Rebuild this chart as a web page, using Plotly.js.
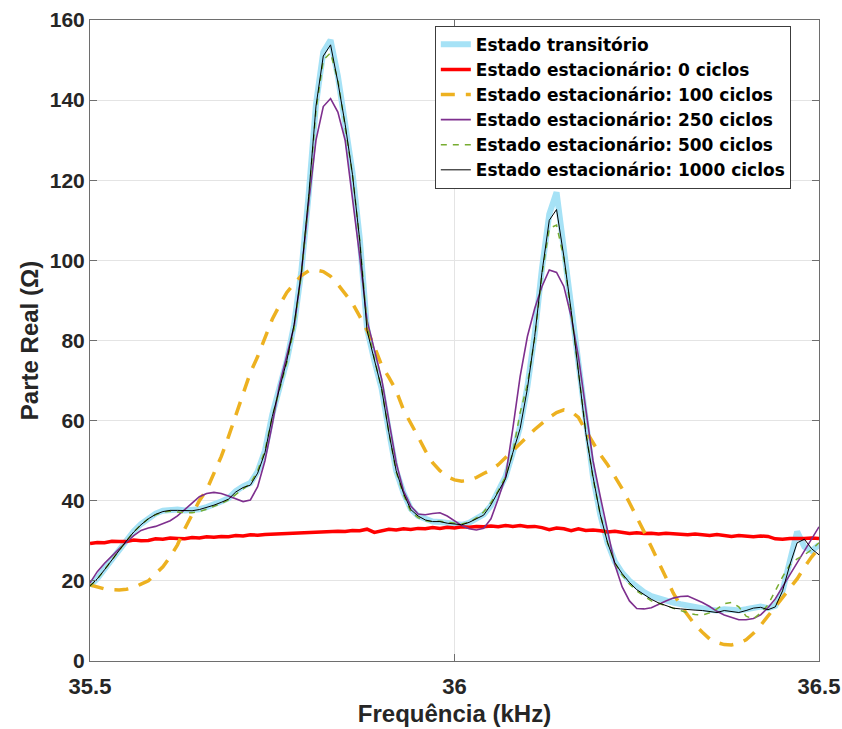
<!DOCTYPE html>
<html>
<head>
<meta charset="utf-8">
<script src="https://cdn.plot.ly/plotly-3.0.1.min.js"></script>
<style>
  html, body { margin: 0; padding: 0; background: #ffffff; }
  #chart { width: 842px; height: 729px; }
</style>
</head>
<body>
<div id="chart"></div>
<script>
// Frequency grid (kHz): 35.50 ... 36.50 in 0.01 steps
const freqStart = 35.5;
const freqStep = 0.01;

// Real part (Ohm) for each simulation case, one value per grid point
const transiente = [
  18.8, 20.6, 23.0, 25.5, 27.8, 30.2, 32.4, 34.2, 35.7, 36.8,
  37.5, 37.8, 37.8, 37.6, 37.6, 37.9, 38.4, 39.0, 39.8, 40.6,
  42.4, 43.6, 44.4, 47.3, 52.5, 61.5, 68.5, 75.0, 84.0, 97.5,
  116.5, 139.0, 152.0, 155.0, 146.0, 134.5, 122.0, 105.5, 83.0, 75.0,
  68.0, 57.5, 47.5, 42.0, 38.0, 36.2, 35.3, 34.8, 34.7, 34.4,
  34.2, 34.0, 34.5, 35.5, 36.6, 38.8, 42.3, 46.0, 52.0, 58.5,
  68.5, 81.5, 98.0, 111.5, 117.0, 102.5, 88.0, 72.5, 57.5, 46.0,
  36.5, 29.5, 24.8, 22.0, 20.0, 18.4, 17.2, 16.2, 15.6, 15.0,
  14.6, 14.2, 13.8, 13.4, 13.1, 12.8, 12.6, 12.9, 12.8, 12.6,
  12.9, 13.4, 13.6, 13.2, 13.8, 17.5, 25.0, 32.3, 28.5, 27.5,
  29.0
];
const ciclos0 = [
  29.3, 29.6, 29.5, 29.9, 29.8, 29.8, 30.2, 30.0, 30.1, 30.5,
  30.4, 30.7, 30.6, 30.5, 30.8, 30.7, 31.0, 30.9, 31.1, 31.0,
  31.3, 31.2, 31.5, 31.4, 31.6, 31.7, 31.6, 31.9, 31.8, 32.1,
  32.0, 32.3, 32.2, 32.4, 32.4, 32.3, 32.6, 32.5, 32.9, 32.1,
  32.6, 32.9, 32.7, 33.0, 32.8, 33.1, 33.0, 33.3, 33.1, 33.4,
  33.2, 33.5, 33.4, 33.6, 33.5, 33.7, 33.5, 33.8, 33.6, 33.8,
  33.5, 33.6, 33.3, 32.8, 33.2, 33.0, 32.5, 33.0, 32.6, 32.7,
  32.5, 32.2, 32.4, 32.0, 31.8, 32.0, 31.8, 31.9, 31.7, 31.9,
  31.8, 31.6, 31.5, 31.7, 31.5, 31.3, 31.6, 31.4, 31.1, 31.3,
  31.2, 31.0, 31.2, 31.1, 30.5, 30.4, 30.6, 30.5, 30.6, 30.7,
  30.6
];
const ciclos100 = [
  19.0, 18.4, 18.0, 17.8, 17.7, 17.9, 18.3, 19.2, 20.0, 21.8,
  23.5, 26.0, 29.0, 33.0, 36.5, 40.0, 42.7, 47.0, 51.0, 56.0,
  61.5, 67.0, 72.0, 76.0, 80.5, 85.3, 88.8, 92.0, 94.2, 96.2,
  97.4, 97.6, 97.2, 96.0, 94.0, 91.8, 89.3, 86.0, 82.6, 78.5,
  73.8, 70.8, 67.5, 62.7, 59.5, 56.0, 52.5, 49.5, 47.5, 46.0,
  45.2, 44.9, 45.1, 45.8, 46.8, 47.7, 49.0, 50.8, 52.6, 54.5,
  56.3, 57.8, 59.3, 60.8, 62.0, 62.7, 62.3, 60.8, 57.5, 54.5,
  51.5, 49.0, 46.0, 43.0, 39.5, 36.0, 32.3, 28.5, 24.5, 21.0,
  17.0, 13.9, 11.3, 9.0, 7.2, 5.5, 4.6, 4.1, 4.0, 4.4,
  5.3, 6.9, 8.9, 11.2, 13.4, 15.6, 18.0, 20.5, 23.4, 26.0,
  28.2
];
const ciclos250 = [
  19.5, 22.3, 24.4, 26.3, 28.0, 29.7, 31.3, 32.6, 33.2, 33.6,
  34.3, 35.0, 36.2, 37.7, 39.4, 41.0, 41.8, 42.1, 41.8, 41.2,
  40.5, 39.8, 40.2, 43.5, 50.0, 59.0, 69.0, 76.0, 83.5, 97.0,
  114.5, 130.0, 138.4, 140.4, 137.0, 130.0, 116.0, 101.0, 85.0, 78.0,
  70.5, 60.0, 49.5, 42.5, 38.7, 36.7, 36.5, 36.8, 37.0, 36.2,
  35.0, 33.8, 33.0, 32.7, 33.1, 35.5, 40.5, 46.0, 58.0, 71.0,
  81.0, 88.0, 93.5, 97.6, 97.0, 93.5, 86.0, 76.0, 63.0, 50.0,
  41.0, 32.5, 24.0, 18.5, 15.0, 13.1, 13.0, 13.3, 14.2, 15.0,
  15.7, 16.1, 16.2, 15.4, 14.6, 13.6, 12.4, 11.5, 10.8, 10.3,
  10.3, 10.6, 11.5, 13.3, 15.5, 18.5, 21.5, 24.5, 27.2, 30.3,
  33.5
];
const ciclos500 = [
  18.6, 20.4, 22.8, 25.3, 27.6, 30.0, 32.2, 34.0, 35.5, 36.5,
  37.2, 37.4, 37.2, 37.0, 37.0, 37.3, 37.9, 38.6, 39.3, 40.2,
  41.6, 43.0, 44.3, 47.5, 52.5, 61.0, 68.0, 74.5, 83.0, 96.5,
  115.5, 137.5, 150.0, 151.8, 145.0, 133.5, 121.5, 105.0, 84.0, 75.5,
  68.0, 57.0, 47.2, 41.5, 37.3, 35.8, 35.0, 34.8, 34.9, 34.6,
  34.4, 34.2, 34.6, 35.7, 37.2, 39.5, 42.5, 46.0, 52.0, 62.0,
  69.0, 80.5, 96.5, 108.0, 108.8, 100.5, 87.0, 72.0, 57.5, 45.5,
  36.5, 29.5, 24.5, 21.5, 19.2, 17.5, 16.2, 15.0, 14.4, 13.8,
  13.3, 12.6, 12.0, 11.6, 11.5, 12.0, 13.0, 14.3, 14.6, 13.5,
  11.2, 10.5, 12.0, 14.0, 17.5, 21.0, 24.0, 25.5, 26.5, 27.8,
  29.5
];
const ciclos1000 = [
  18.8, 20.5, 22.8, 25.3, 27.5, 30.0, 32.2, 34.0, 35.5, 36.6,
  37.3, 37.6, 37.6, 37.5, 37.5, 37.8, 38.3, 38.9, 39.6, 40.4,
  42.2, 43.3, 43.9, 46.9, 52.0, 61.0, 68.0, 75.0, 84.0, 97.0,
  116.0, 138.5, 151.0, 153.8, 144.5, 134.0, 121.5, 105.0, 82.5, 75.0,
  68.0, 57.0, 47.5, 41.9, 37.8, 36.2, 35.2, 34.8, 34.8, 34.4,
  34.2, 34.0, 34.6, 35.5, 36.4, 39.0, 42.3, 45.5, 52.0, 58.0,
  68.0, 81.0, 97.0, 110.0, 112.7, 101.0, 87.5, 72.0, 57.0, 46.0,
  36.5, 29.5, 24.5, 21.8, 19.6, 17.8, 16.6, 15.4, 14.5, 13.8,
  13.2, 13.0, 12.8, 12.7, 12.6, 12.3, 12.1, 12.6, 12.4, 12.1,
  12.6, 13.2, 13.4, 12.8, 13.5, 17.5, 24.0, 29.5, 30.4, 28.0,
  26.5
];

const seriesNames = [
  'Estado transitório',
  'Estado estacionário: 0 ciclos',
  'Estado estacionário: 100 ciclos',
  'Estado estacionário: 250 ciclos',
  'Estado estacionário: 500 ciclos',
  'Estado estacionário: 1000 ciclos'
];

const xTickVals = [35.5, 36, 36.5];
const xTickText = ['35.5', '36', '36.5'];
const yTickVals = [0, 20, 40, 60, 80, 100, 120, 140, 160];

// Shared frequency axis built from the grid definition
const freq = transiente.map((_, i) => +(freqStart + i * freqStep).toFixed(2));

const styles = [
  { color: 'rgb(166,226,246)', width: 6,   dash: 'solid' },
  { color: 'rgb(255,0,0)',     width: 3.5, dash: 'solid' },
  { color: 'rgb(237,177,32)',  width: 3.5, dash: '14px,11px' },
  { color: 'rgb(126,47,142)',  width: 1.6, dash: 'solid' },
  { color: 'rgb(119,172,48)',  width: 1.5, dash: '6px,6px' },
  { color: 'rgb(0,0,0)',       width: 1,   dash: 'solid' }
];

const allSeries = [transiente, ciclos0, ciclos100, ciclos250, ciclos500, ciclos1000];

const traces = allSeries.map((ys, k) => ({
  x: freq,
  y: ys,
  type: 'scatter',
  mode: 'lines',
  name: seriesNames[k],
  line: styles[k]
}));

const fontFamily = '"Liberation Sans", Arial, Helvetica, sans-serif';
const legendFamily = '"DejaVu Sans", "Liberation Sans", Arial, sans-serif';
const axisColor = 'rgb(110,110,110)';
const gridColor = 'rgb(228,228,228)';
const textColor = '#262626';

const layout = {
  width: 842,
  height: 729,
  margin: { l: 90, r: 23, t: 20, b: 68 },
  paper_bgcolor: '#ffffff',
  plot_bgcolor: '#ffffff',
  font: { family: fontFamily, color: textColor },
  showlegend: true,
  legend: {
    x: 0.473,
    y: 0.991,
    xanchor: 'left',
    yanchor: 'top',
    bgcolor: '#ffffff',
    bordercolor: 'rgb(60,60,60)',
    borderwidth: 1,
    font: { family: legendFamily, size: 17, color: '#000000', weight: 'bold' },
    tracegroupgap: 0
  },
  xaxis: {
    range: [35.5, 36.5],
    tickvals: xTickVals,
    ticktext: xTickText,
    ticks: 'inside',
    ticklen: 7,
    tickcolor: axisColor,
    showline: true,
    linecolor: axisColor,
    linewidth: 1,
    mirror: 'ticks',
    showgrid: true,
    gridcolor: gridColor,
    zeroline: false,
    ticklabelstandoff: 6,
    tickfont: { family: fontFamily, size: 22, color: textColor, weight: 'bold' },
    title: {
      text: 'Frequência (kHz)',
      font: { family: fontFamily, size: 24, color: textColor, weight: 'bold' },
      standoff: 6
    }
  },
  yaxis: {
    range: [0, 160],
    tickvals: yTickVals,
    ticks: 'inside',
    ticklen: 7,
    tickcolor: axisColor,
    showline: true,
    linecolor: axisColor,
    linewidth: 1,
    mirror: 'ticks',
    showgrid: true,
    gridcolor: gridColor,
    zeroline: false,
    tickfont: { family: fontFamily, size: 21, color: textColor, weight: 'bold' },
    title: {
      text: 'Parte Real (Ω)',
      font: { family: fontFamily, size: 24, color: textColor, weight: 'bold' },
      standoff: 4
    }
  }
};

Plotly.newPlot('chart', traces, layout, { staticPlot: true, displayModeBar: false });
</script>
</body>
</html>
